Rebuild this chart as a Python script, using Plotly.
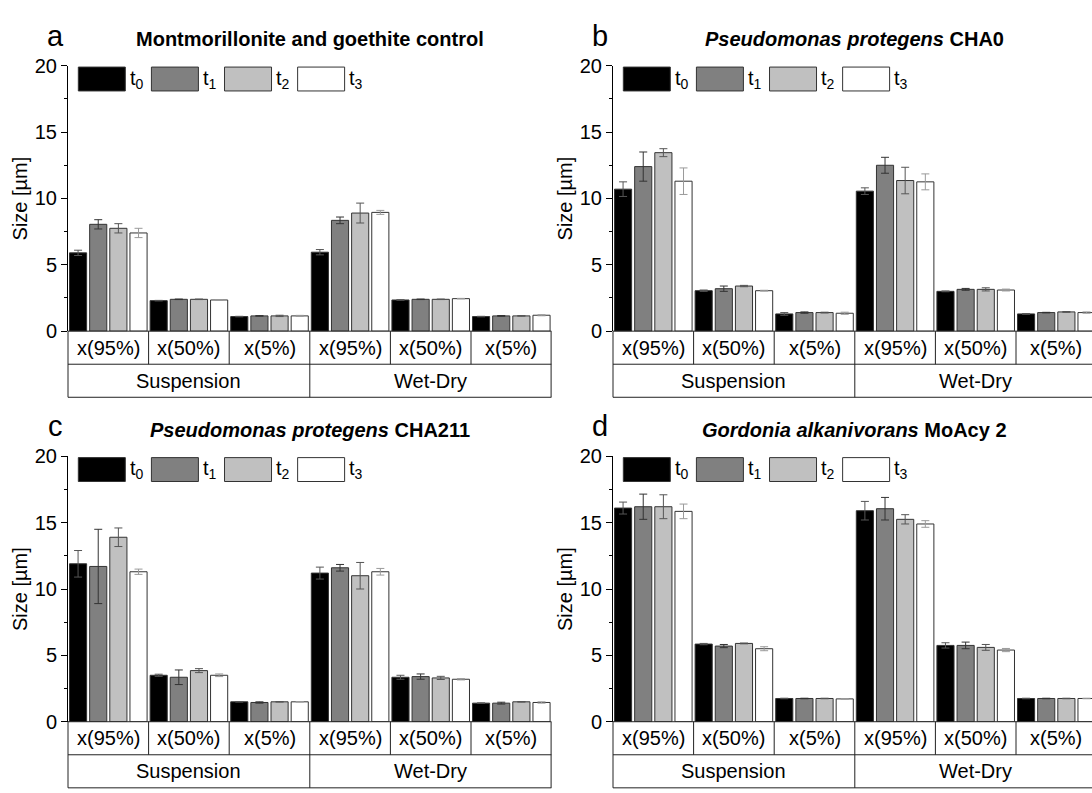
import plotly.graph_objects as go

# ---------------- data ----------------
size_classes = ["x(95%)", "x(50%)", "x(5%)"]
treatments = ["Suspension", "Wet-Dry"]
time_labels = ["t<sub>0</sub>", "t<sub>1</sub>", "t<sub>2</sub>", "t<sub>3</sub>"]
time_colors = ["#000000", "#808080", "#C0C0C0", "#FFFFFF"]
err_colors = ["#555555", "#333333", "#555555", "#9A9A9A"]

panel_letters = ["a", "b", "c", "d"]
panel_titles = [
    "<b>Montmorillonite and goethite control</b>",
    "<b><i>Pseudomonas protegens</i> CHA0</b>",
    "<b><i>Pseudomonas protegens</i> CHA211</b>",
    "<b><i>Gordonia alkanivorans</i> MoAcy 2</b>",
]

# order of each list: Suspension x95, x50, x5, Wet-Dry x95, x50, x5
a_t0 = [5.9, 2.3, 1.1, 5.95, 2.35, 1.1]
a_t1 = [8.05, 2.4, 1.15, 8.35, 2.4, 1.15]
a_t2 = [7.75, 2.4, 1.15, 8.9, 2.4, 1.15]
a_t3 = [7.4, 2.35, 1.15, 8.95, 2.45, 1.2]
a_e0 = [0.2, 0.02, 0.02, 0.2, 0.02, 0.02]
a_e1 = [0.35, 0.02, 0.02, 0.25, 0.02, 0.03]
a_e2 = [0.35, 0.02, 0.05, 0.75, 0.02, 0.02]
a_e3 = [0.35, 0.02, 0.04, 0.15, 0.02, 0.04]

b_t0 = [10.7, 3.05, 1.3, 10.55, 3.0, 1.3]
b_t1 = [12.4, 3.2, 1.4, 12.5, 3.15, 1.4]
b_t2 = [13.45, 3.4, 1.4, 11.35, 3.15, 1.45]
b_t3 = [11.3, 3.05, 1.35, 11.25, 3.1, 1.4]
b_e0 = [0.55, 0.05, 0.1, 0.25, 0.03, 0.03]
b_e1 = [1.1, 0.2, 0.05, 0.6, 0.07, 0.02]
b_e2 = [0.3, 0.05, 0.03, 1.0, 0.12, 0.03]
b_e3 = [1.0, 0.03, 0.08, 0.6, 0.07, 0.05]

c_t0 = [11.9, 3.5, 1.5, 11.2, 3.35, 1.4]
c_t1 = [11.7, 3.35, 1.45, 11.6, 3.4, 1.4]
c_t2 = [13.9, 3.85, 1.5, 11.0, 3.3, 1.5]
c_t3 = [11.3, 3.5, 1.5, 11.3, 3.2, 1.45]
c_e0 = [1.0, 0.08, 0.02, 0.45, 0.15, 0.02]
c_e1 = [2.8, 0.55, 0.05, 0.25, 0.2, 0.07]
c_e2 = [0.7, 0.15, 0.02, 1.0, 0.12, 0.02]
c_e3 = [0.2, 0.1, 0.02, 0.25, 0.05, 0.05]

d_t0 = [16.1, 5.85, 1.75, 15.9, 5.75, 1.75]
d_t1 = [16.2, 5.7, 1.75, 16.05, 5.75, 1.75]
d_t2 = [16.2, 5.9, 1.75, 15.25, 5.6, 1.75]
d_t3 = [15.85, 5.5, 1.72, 14.9, 5.4, 1.75]
d_e0 = [0.45, 0.05, 0.02, 0.7, 0.2, 0.02]
d_e1 = [0.95, 0.12, 0.02, 0.85, 0.25, 0.02]
d_e2 = [0.9, 0.03, 0.02, 0.35, 0.22, 0.02]
d_e3 = [0.55, 0.15, 0.02, 0.25, 0.12, 0.02]

panel_values = [[a_t0, a_t1, a_t2, a_t3], [b_t0, b_t1, b_t2, b_t3],
                [c_t0, c_t1, c_t2, c_t3], [d_t0, d_t1, d_t2, d_t3]]
panel_errors = [[a_e0, a_e1, a_e2, a_e3], [b_e0, b_e1, b_e2, b_e3],
                [c_e0, c_e1, c_e2, c_e3], [d_e0, d_e1, d_e2, d_e3]]

# ---------------- layout geometry ----------------
W, H = 1092, 793
FONT = "Arial, Liberation Sans, sans-serif"
slots = [(t, c) for t in treatments for c in size_classes]
positions = list(range(len(slots)))

cat_px = 80.6
left_x0 = 68
right_x0 = 613
top_y0, top_y20 = 329.3, 56.3
bot_y0, bot_y20 = 731.0, 458.0
row_h = 34.0


def px_x(p):
    return p / W


def px_y(p):
    return 1 - p / H


panels = []
for i in range(4):
    col = i % 2
    row = i // 2
    x0 = left_x0 if col == 0 else right_x0
    x1 = x0 + cat_px * len(slots)
    y0 = top_y0 if row == 0 else bot_y0
    y20 = top_y20 if row == 0 else bot_y20
    dom_x1 = min(x1, W)
    rng_hi = -0.5 + (dom_x1 - x0) / cat_px
    panels.append(dict(x0=x0, x1=x1, dom_x=[px_x(x0), px_x(dom_x1)],
                       rng=[-0.5, rng_hi], y0=y0, y20=y20,
                       dom_y=[px_y(y0), px_y(y20)]))

fig = go.Figure()
shapes = []
annotations = []
line_col = "#222222"

for i, p in enumerate(panels):
    sfx = "" if i == 0 else str(i + 1)
    xa, ya = "x" + sfx, "y" + sfx
    for k in range(4):
        fig.add_trace(go.Bar(
            x=positions, y=panel_values[i][k], xaxis=xa, yaxis=ya,
            name=time_labels[k], showlegend=False,
            marker=dict(color=time_colors[k], line=dict(color="#333333", width=1)),
            error_y=dict(type="data", array=panel_errors[i][k], visible=True,
                         color=err_colors[k], thickness=1, width=4),
        ))
    fig.layout["xaxis" + sfx] = dict(domain=p["dom_x"], range=p["rng"], anchor=ya,
                                     showticklabels=False, showgrid=False,
                                     zeroline=False, showline=False, ticks="",
                                     fixedrange=True)
    fig.layout["yaxis" + sfx] = dict(domain=p["dom_y"], range=[0, 20], anchor=xa,
                                     showgrid=False, zeroline=False, showline=True,
                                     linecolor="#000000", linewidth=1,
                                     ticks="outside", ticklen=6, tickwidth=1,
                                     tickcolor="#000000", dtick=5, tick0=0,
                                     minor=dict(ticks="outside", ticklen=3,
                                                tickwidth=1, dtick=2.5,
                                                tickcolor="#000000"),
                                     tickfont=dict(family=FONT, size=20, color="#000000"),
                                     fixedrange=True)

    # category table
    yb0 = px_y(p["y0"])
    yb1 = px_y(p["y0"] + row_h)
    yb2 = px_y(p["y0"] + 2 * row_h)
    n = len(slots)
    for yy in (yb0, yb1, yb2):
        shapes.append(dict(type="line", xref=xa, yref="paper", x0=-0.5, x1=n - 0.5,
                           y0=yy, y1=yy, line=dict(color=line_col, width=1)))
    for b in range(1, n):
        bottom = yb2 if b % len(size_classes) == 0 else yb1
        shapes.append(dict(type="line", xref=xa, yref="paper", x0=b - 0.5, x1=b - 0.5,
                           y0=yb0, y1=bottom, line=dict(color=line_col, width=1)))
    # outer verticals at domain edges
    shapes.append(dict(type="line", xref="paper", yref="paper",
                       x0=px_x(p["x0"]), x1=px_x(p["x0"]), y0=yb0, y1=yb2,
                       line=dict(color=line_col, width=1)))
    shapes.append(dict(type="line", xref="paper", yref="paper",
                       x0=px_x(p["x1"] - 0.5), x1=px_x(p["x1"] - 0.5), y0=yb0, y1=yb2,
                       line=dict(color=line_col, width=1)))
    for j, (t, c) in enumerate(slots):
        annotations.append(dict(xref=xa, yref="paper", x=positions[j],
                                y=(yb0 + yb1) / 2, text=c, showarrow=False,
                                font=dict(family=FONT, size=20, color="#000000"),
                                xanchor="center", yanchor="middle"))
    for g, t in enumerate(treatments):
        m = len(size_classes)
        annotations.append(dict(xref=xa, yref="paper", x=g * m + (m - 1) / 2,
                                y=(yb1 + yb2) / 2, text=t, showarrow=False,
                                font=dict(family=FONT, size=20, color="#000000"),
                                xanchor="center", yanchor="middle"))

    # custom legend
    for k in range(4):
        lx0 = -0.372 + 0.907 * k
        lx1 = lx0 + 0.583
        shapes.append(dict(type="rect", xref=xa, yref=ya, x0=lx0, x1=lx1,
                           y0=18.1, y1=19.9, fillcolor=time_colors[k],
                           line=dict(color="#333333", width=1)))
        annotations.append(dict(xref=xa, yref=ya, x=lx1 + 0.03, y=19.0,
                                text=time_labels[k], showarrow=False,
                                font=dict(family=FONT, size=20, color="#000000"),
                                xanchor="left", yanchor="middle"))

    # titles, letters, y titles
    cx = px_x((p["x0"] + p["x1"]) / 2)
    ty = p["y20"] - 27
    annotations.append(dict(xref="paper", yref="paper", x=cx, y=px_y(ty),
                            text=panel_titles[i], showarrow=False,
                            font=dict(family=FONT, size=20, color="#000000"),
                            xanchor="center", yanchor="middle"))
    annotations.append(dict(xref="paper", yref="paper", x=px_x(p["x0"] - 13),
                            y=px_y(p["y20"] - 31), text=panel_letters[i],
                            showarrow=False,
                            font=dict(family=FONT, size=29, color="#000000"),
                            xanchor="center", yanchor="middle"))
    annotations.append(dict(xref="paper", yref="paper", x=px_x(p["x0"] - 48),
                            y=px_y((p["y0"] + p["y20"]) / 2), text="Size [µm]",
                            textangle=-90, showarrow=False,
                            font=dict(family=FONT, size=20, color="#000000"),
                            xanchor="center", yanchor="middle"))

fig.update_layout(
    width=W, height=H, margin=dict(l=0, r=0, t=0, b=0, pad=0),
    paper_bgcolor="white", plot_bgcolor="white",
    barmode="group", bargap=0.0, bargroupgap=0.15,
    shapes=shapes, annotations=annotations, showlegend=False,
    font=dict(family=FONT, color="#000000"),
)

fig.write_html("out.html")
